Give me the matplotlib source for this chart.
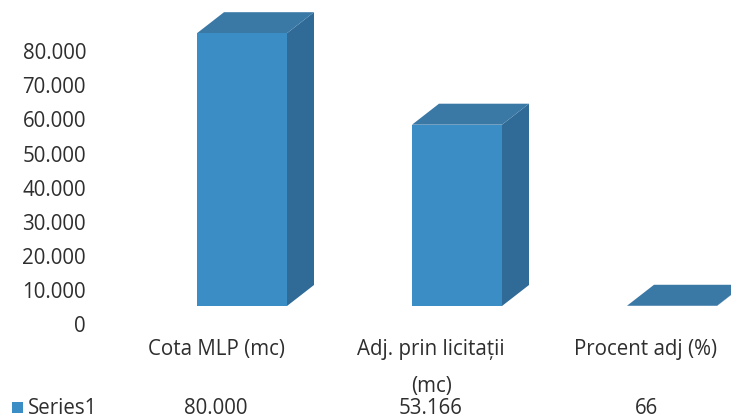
import matplotlib.pyplot as plt
from matplotlib.patches import Polygon, Rectangle
from matplotlib.transforms import ScaledTranslation, blended_transform_factory

# chart data
categories = ["Cota MLP (mc)", "Adj. prin licitații\n(mc)", "Procent adj (%)"]
values = [80000, 53166, 66]
series_name = "Series1"
y_ticks = [0, 10000, 20000, 30000, 40000, 50000, 60000, 70000, 80000]


def fmt(v):
    # romanian style thousands separator
    return "{:,}".format(v).replace(",", ".")


plt.rcParams['font.family'] = ['Open Sans', 'DejaVu Sans']
txt_color = '#2e2e2e'
front_col = '#3b8dc6'
top_col = '#3a78a6'
side_col = '#306a96'
fs = 14.8

W, H = 731, 417
fig = plt.figure(figsize=(W / 100, H / 100), dpi=100)
ax = fig.add_axes([100 / W, (H - 306) / H, 631 / W, 306 / H])

px_per_x = 215.0        # pixels between categories
px_per_val = 3.41 / 1000  # pixels per unit value
ax.set_xlim((100 - 216) / px_per_x, (731 - 216) / px_per_x)
ax.set_ylim(0, 306 / px_per_val)

# 3d look: depth of the bars expressed in data units
dx = 27 / px_per_x
dy = 21 / px_per_val
x_shift = -19 / px_per_x
bar_w = 90 / px_per_x

for i, v in enumerate(values):
    x0 = i + x_shift
    x1 = x0 + bar_w
    # right side
    ax.add_patch(Polygon([(x1, 0), (x1 + dx, dy), (x1 + dx, v + dy), (x1, v)],
                         closed=True, facecolor=side_col, edgecolor='none'))
    # top
    ax.add_patch(Polygon([(x0, v), (x1, v), (x1 + dx, v + dy), (x0 + dx, v + dy)],
                         closed=True, facecolor=top_col, edgecolor='none'))
    # front
    ax.add_patch(Rectangle((x0, 0), bar_w, v, facecolor=front_col, edgecolor='none'))

for s in ax.spines.values():
    s.set_visible(False)

ax.set_yticks(y_ticks)
ax.set_yticklabels([fmt(t) for t in y_ticks])
ax.set_xticks(range(len(categories)))
ax.set_xticklabels(categories, linespacing=1.95)
ax.tick_params(axis='y', length=0, pad=10, labelsize=fs, labelcolor=txt_color)
ax.tick_params(axis='x', length=0, pad=24, labelsize=fs, labelcolor=txt_color)

# y labels sit a bit lower than the bar fronts
off = ScaledTranslation(0, -0.18, fig.dpi_scale_trans)
for lab in ax.get_yticklabels():
    lab.set_transform(lab.get_transform() + off)

# data table row under the chart
trans = blended_transform_factory(ax.transData, fig.transFigure)
row_y = (H - 408) / H
for i, v in enumerate(values):
    ax.text(i, row_y, fmt(v), transform=trans, ha='center', va='center',
            fontsize=fs, color=txt_color, clip_on=False)
fig.add_artist(Rectangle((12 / W, (H - 413) / H), 11 / W, 11 / H,
                         transform=fig.transFigure, facecolor=front_col, edgecolor='none'))
fig.text(28 / W, row_y, series_name, ha='left', va='center', fontsize=fs, color=txt_color)

fig.savefig('out.png', dpi=100)
